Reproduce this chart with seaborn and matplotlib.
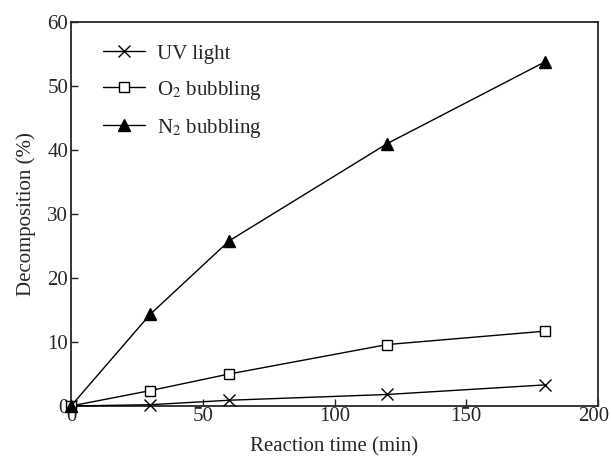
import matplotlib
matplotlib.use("Agg")
import matplotlib.pyplot as plt
import matplotlib.transforms as mtransforms
import seaborn as sns
import pandas as pd

time_min = [0, 30, 60, 120, 180]
uv_light = [0.0, 0.2, 0.9, 1.8, 3.3]
o2_bubbling = [0.0, 2.4, 5.0, 9.6, 11.7]
n2_bubbling = [0.0, 14.3, 25.8, 41.0, 53.8]
labels = ["UV light", "O$_2$ bubbling", "N$_2$ bubbling"]
x_ticks = [0, 50, 100, 150, 200]
y_ticks = [0, 10, 20, 30, 40, 50, 60]

sns.set_style("ticks")
plt.rcParams["font.family"] = ["Liberation Serif", "DejaVu Serif"]
plt.rcParams["mathtext.fontset"] = "stix"
plt.rcParams["xtick.direction"] = "in"
plt.rcParams["ytick.direction"] = "in"

FS = 15
fig = plt.figure(figsize=(6.11, 4.58), dpi=100)
ax = fig.add_axes([71 / 611, 52 / 458, 527 / 611, 384 / 458])

series = [uv_light, o2_bubbling, n2_bubbling]
markers = ["x", "s", "^"]
mfcs = ["black", "white", "black"]
msizes = [8, 6.5, 8]
for vals, lab, m, fc, ms in zip(series, labels, markers, mfcs, msizes):
    df = pd.DataFrame({"t": time_min, "v": vals})
    sns.lineplot(data=df, x="t", y="v", ax=ax, color="black", linewidth=1.0,
                 marker=m, markersize=ms, markerfacecolor=fc, markeredgecolor="black",
                 markeredgewidth=1.0, label=lab, clip_on=False, zorder=3)

ax.set_xlim(0, 200)
ax.set_ylim(0, 60)
ax.set_xticks(x_ticks)
ax.set_yticks(y_ticks)
ax.tick_params(labelsize=FS, length=5, width=1.0)
ax.tick_params(axis="x", pad=1)
ax.tick_params(axis="y", pad=2)
for s in ax.spines.values():
    s.set_linewidth(1.3)
ax.set_xlabel("Reaction time (min)", fontsize=FS, labelpad=8)
ax.set_ylabel("Decomposition (%)", fontsize=FS, labelpad=8)

ax.legend(loc="upper left", bbox_to_anchor=(0.025, 0.991), frameon=False,
          fontsize=FS, handlelength=2.0, labelspacing=0.72, handletextpad=0.6)

# keep the last x tick label inside the figure, as in the reference
last = ax.get_xticklabels()[-1]
last.set_transform(last.get_transform() +
                   mtransforms.ScaledTranslation(-4 / 100, 0, fig.dpi_scale_trans))

fig.savefig("out.png", dpi=100)
